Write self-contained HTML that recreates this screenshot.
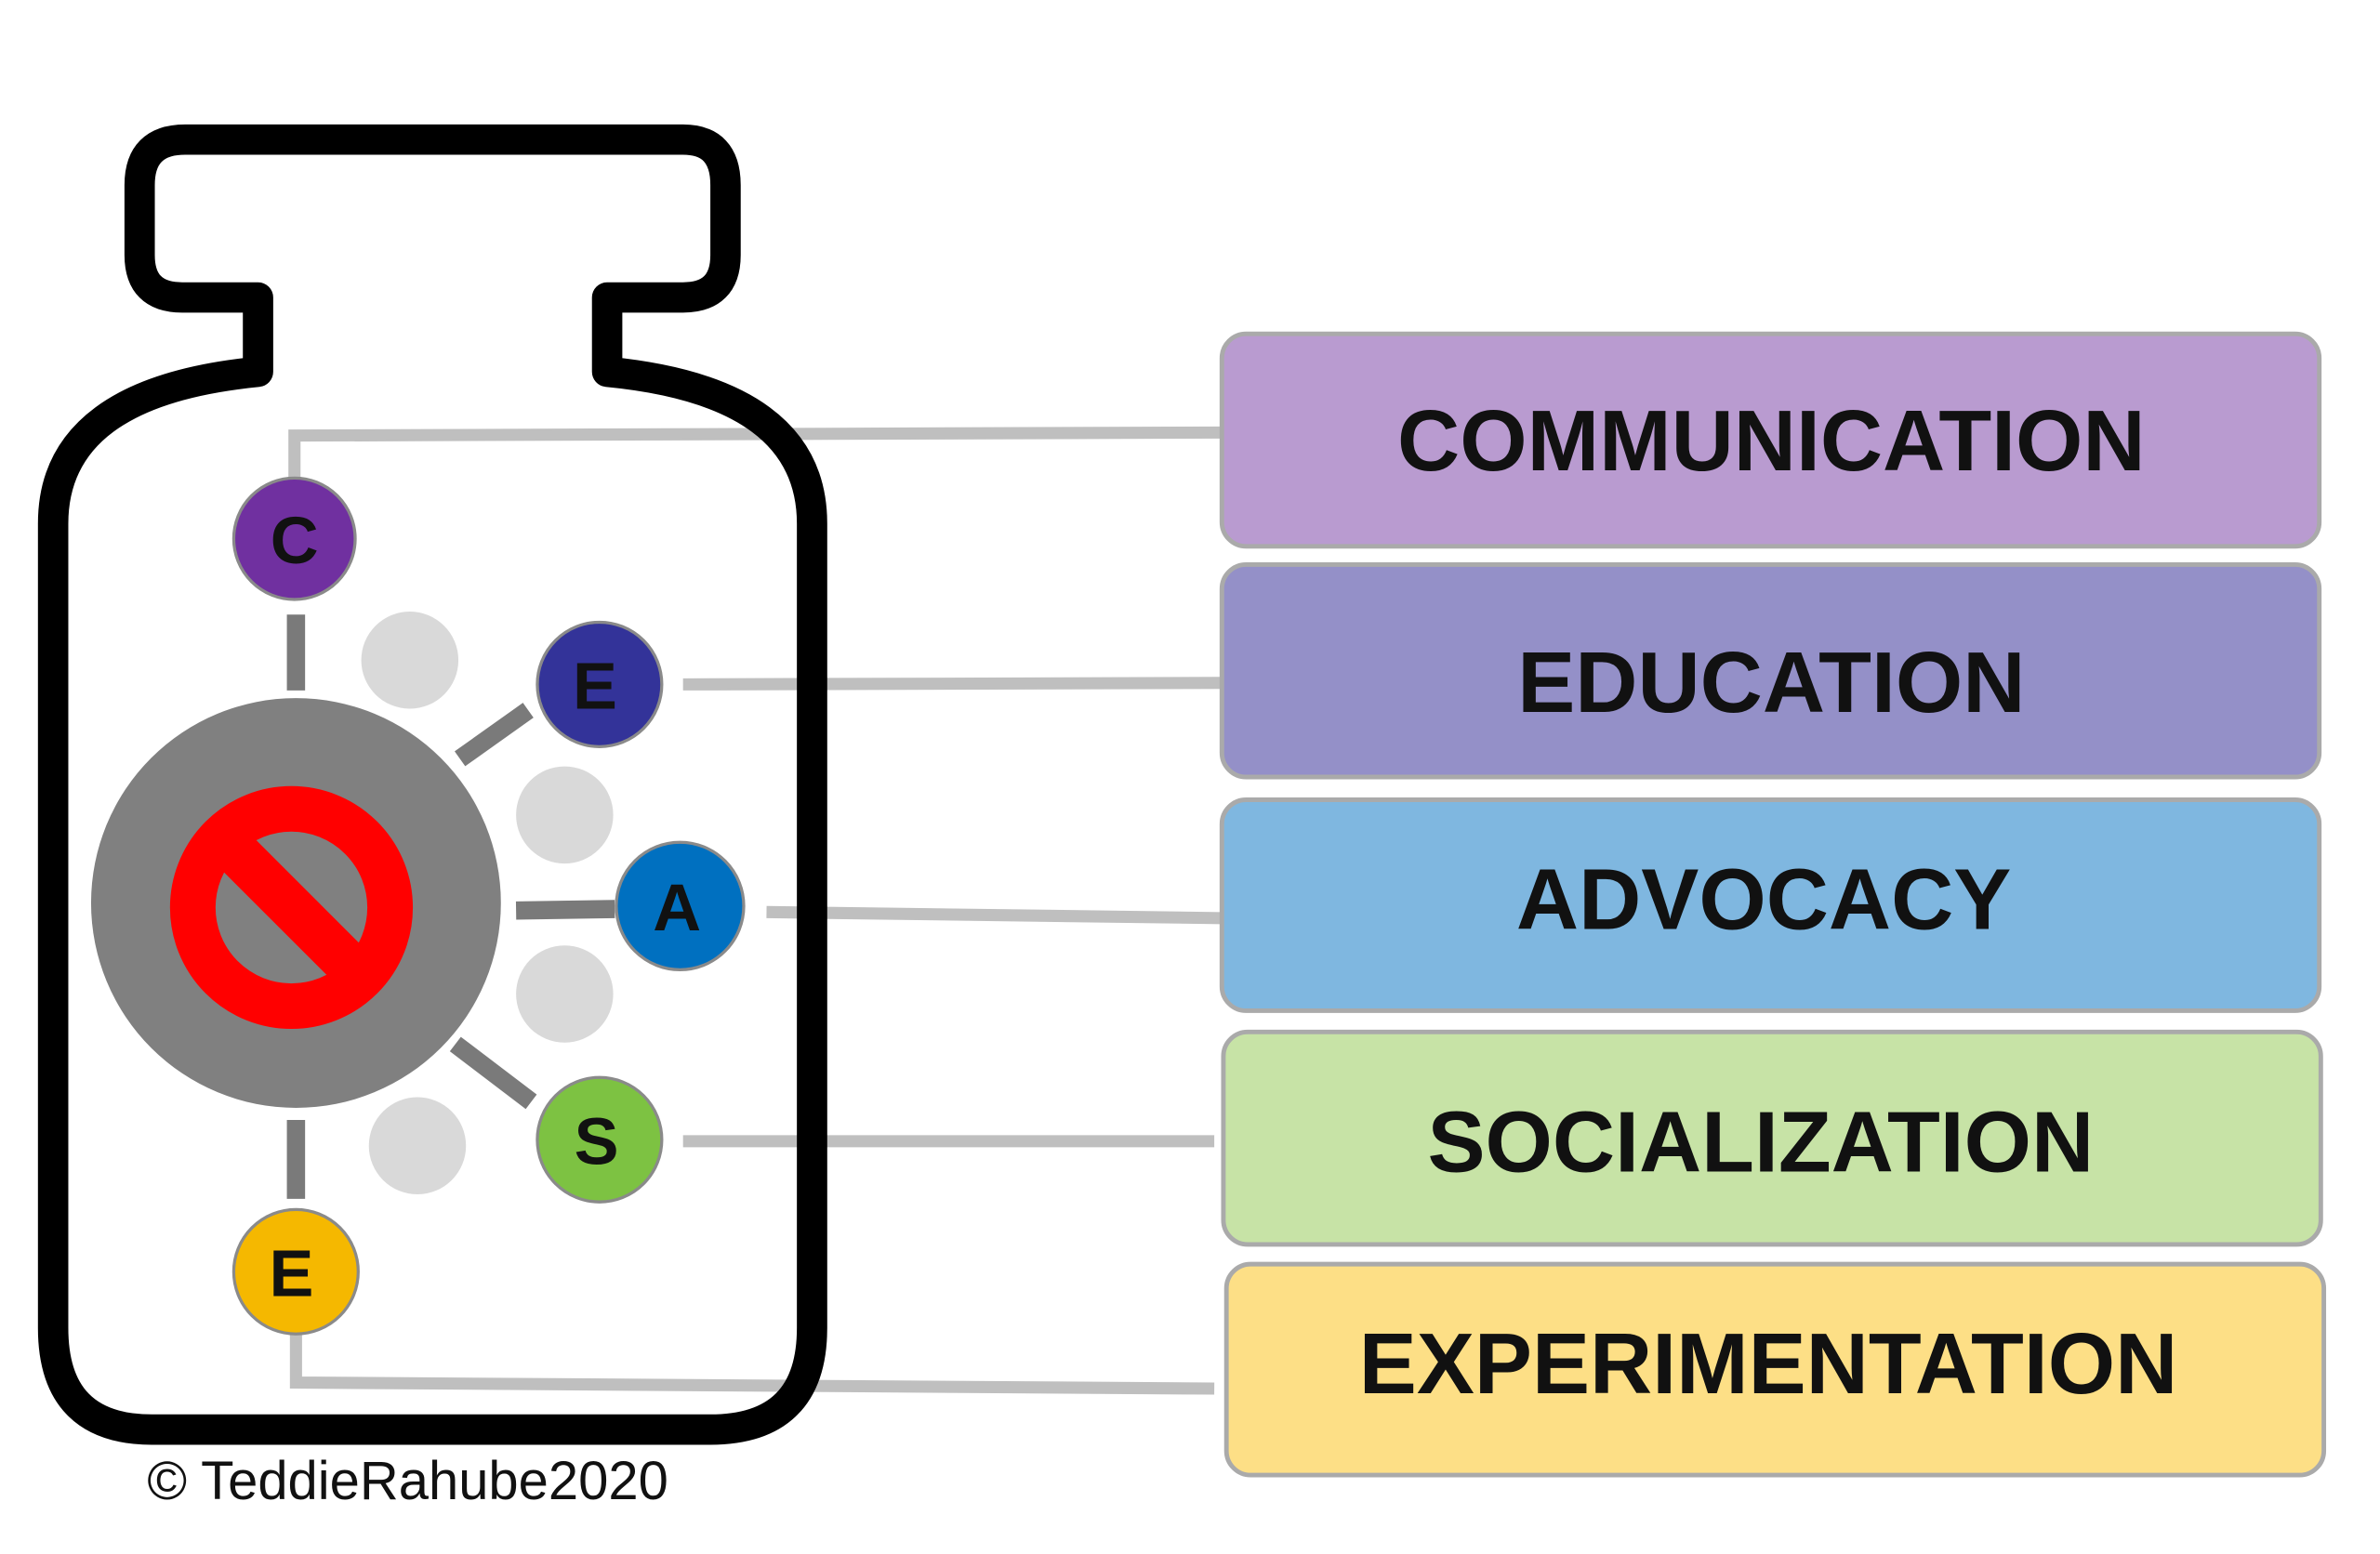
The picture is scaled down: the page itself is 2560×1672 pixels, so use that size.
<!DOCTYPE html>
<html><head><meta charset="utf-8"><style>
html,body{margin:0;padding:0;background:#fff;}
svg{display:block;}
</style></head><body>
<svg width="2560" height="1672" viewBox="0 0 1568 1024" preserveAspectRatio="none" xmlns="http://www.w3.org/2000/svg">
<rect width="1568" height="1024" fill="#fff"/>
<g stroke="#bfbfbf" stroke-width="8" fill="none">
<polyline points="194,318 194,287 805,285"/>
<line x1="450" y1="451" x2="805" y2="450"/>
<line x1="505" y1="601" x2="805" y2="605"/>
<line x1="450" y1="752" x2="800" y2="752"/>
<polyline points="195,878 195,911 800,915"/>
</g>
<path d="M 122 92 H 450 Q 478 92 478 122 V 168 Q 478 196 450 196 H 400 V 245 Q 535 258 535 345 V 875 Q 535 942 468 942 H 100 Q 35 942 35 875 V 345 Q 35 258 170 245 V 196 H 120 Q 92 196 92 168 V 122 Q 92 92 122 92 Z" fill="none" stroke="#000" stroke-width="20" stroke-linejoin="round"/>
<g fill="#d9d9d9">
<circle cx="270" cy="435" r="32"/>
<circle cx="372" cy="537" r="32"/>
<circle cx="372" cy="655" r="32"/>
<circle cx="275" cy="755" r="32"/>
</g>
<g stroke="#7a7a7a" stroke-width="12">
<line x1="195" y1="405" x2="195" y2="455"/>
<line x1="303" y1="500" x2="348" y2="468"/>
<line x1="340" y1="600" x2="405" y2="599"/>
<line x1="300" y1="688" x2="350" y2="726"/>
<line x1="195" y1="738" x2="195" y2="790"/>
</g>
<circle cx="195" cy="595" r="135" fill="#808080"/>
<circle cx="192" cy="598" r="65" fill="none" stroke="#ff0000" stroke-width="30"/>
<line x1="145" y1="551" x2="239" y2="645" stroke="#ff0000" stroke-width="30"/>
<g stroke="#8a8a8a" stroke-width="2">
<circle cx="194" cy="355" r="40" fill="#7030a0"/>
<circle cx="395" cy="451" r="41" fill="#333399"/>
<circle cx="448" cy="597" r="42" fill="#0070c0"/>
<circle cx="395" cy="751" r="41" fill="#7dc242"/>
<circle cx="195" cy="838" r="41" fill="#f5b800"/>
</g>
<g font-family="Liberation Sans, sans-serif" font-weight="bold" font-size="44" text-anchor="middle" fill="#111">
<text x="194" y="371">C</text>
<text x="392" y="467">E</text>
<text x="446" y="613">A</text>
<text x="393" y="767">S</text>
<text x="192" y="854">E</text>
</g>
<g stroke="#aaaaaa" stroke-width="3">
<rect x="805" y="220" width="723" height="140" rx="16" fill="#b99bd0"/>
<rect x="805" y="372" width="723" height="140" rx="16" fill="#9490c8"/>
<rect x="805" y="527" width="723" height="139" rx="16" fill="#7fb7e0"/>
<rect x="806" y="680" width="723" height="140" rx="16" fill="#c7e3a6"/>
<rect x="808" y="833" width="723" height="139" rx="16" fill="#fddf86"/>
</g>
<g font-family="Liberation Sans, sans-serif" font-weight="bold" font-size="57" text-anchor="middle" fill="#111">
<text x="1167" y="310">COMMUNICATION</text>
<text x="1167" y="469">EDUCATION</text>
<text x="1162" y="612">ADVOCACY</text>
<text x="1160" y="772">SOCIALIZATION</text>
<text x="1165" y="918">EXPERIMENTATION</text>
</g>
<text x="97" y="988" font-family="Liberation Sans, sans-serif" font-size="35.5" fill="#111">© TeddieRahube2020</text>
</svg>
</body></html>
